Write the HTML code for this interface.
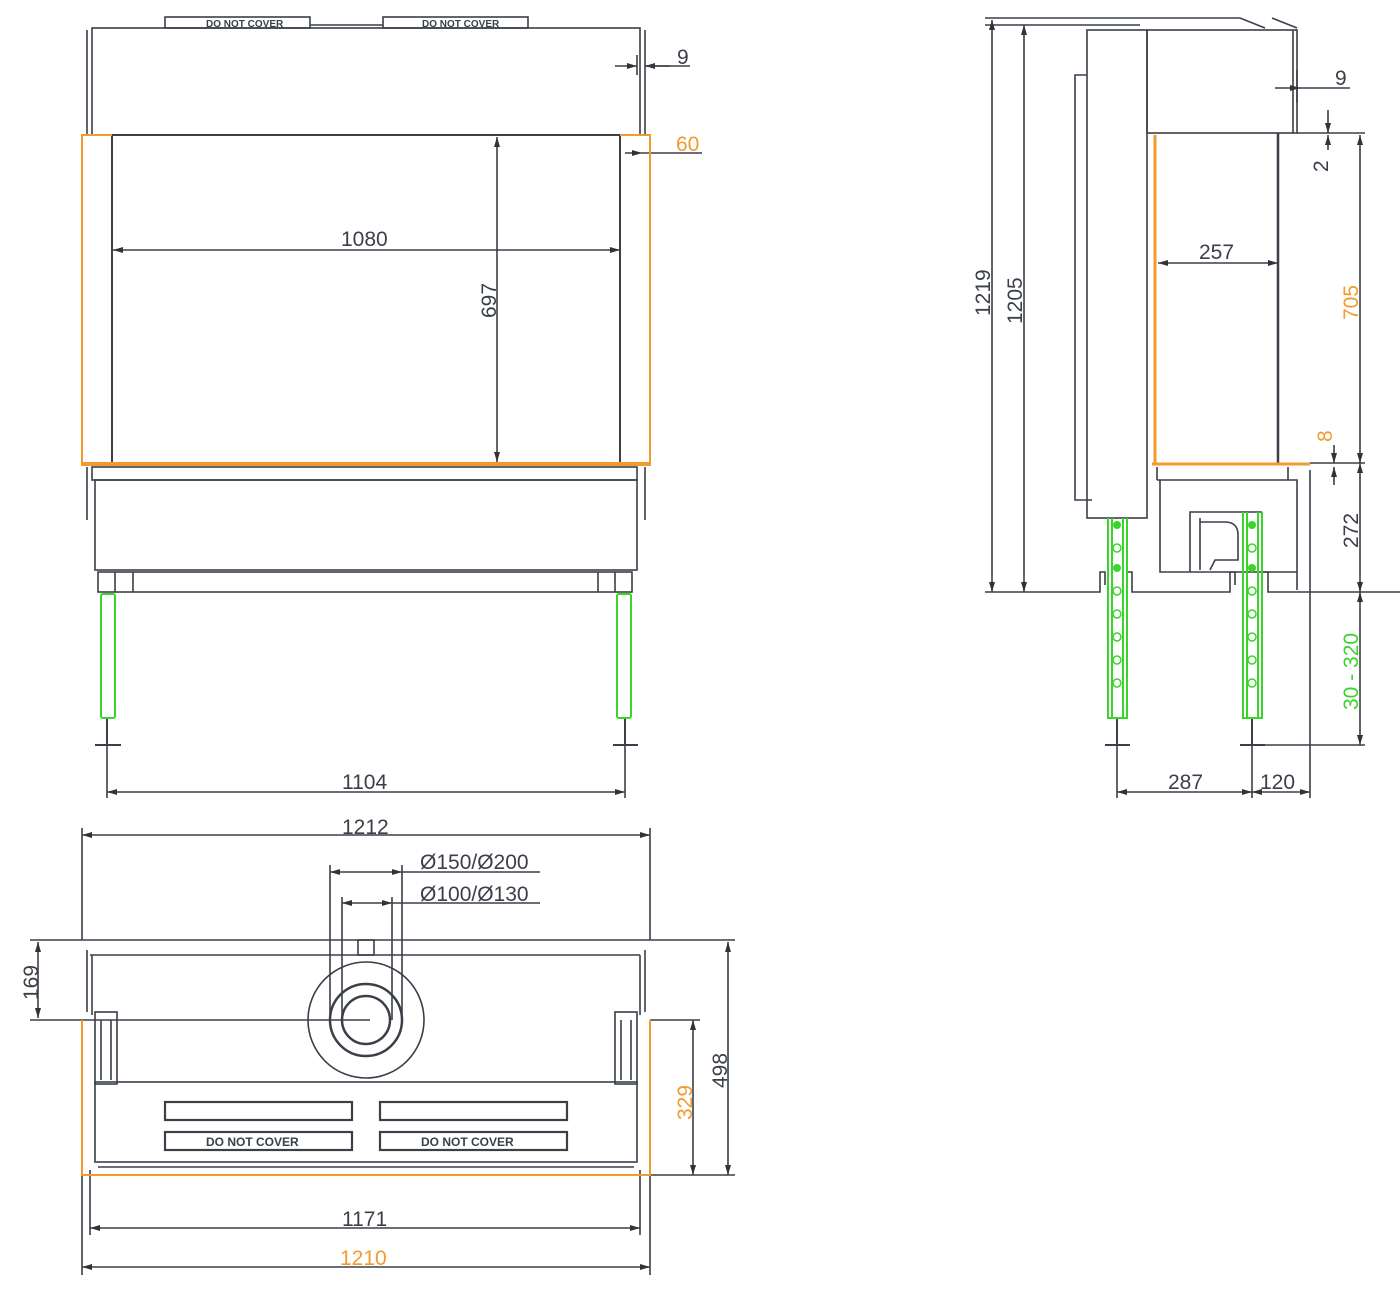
<!DOCTYPE html>
<html><head><meta charset="utf-8"><style>
html,body{margin:0;padding:0;background:#fff}
svg{display:block}
text{font-family:"Liberation Sans",sans-serif;font-size:21px;fill:#3a3f48}
text.s{font-size:10px;font-weight:bold}
text.s2{font-size:12px;font-weight:bold}
.o{fill:#f39a2e}.g{fill:#39d52a}
</style></head><body>
<svg width="1400" height="1290" viewBox="0 0 1400 1290" xmlns="http://www.w3.org/2000/svg">
<defs>
<marker id="a" viewBox="0 0 10 6" refX="10" refY="3" markerWidth="10" markerHeight="6" orient="auto-start-reverse" markerUnits="userSpaceOnUse"><path d="M0,0L10,3L0,6z" fill="#333"/></marker>
</defs>
<g fill="none" stroke="#3a3f48" stroke-width="1.6">
<!-- FRONT VIEW -->
<rect x="165" y="17" width="145" height="11"/><rect x="383" y="17" width="145" height="11"/>
<line x1="310" y1="25" x2="383" y2="25"/>
<rect x="92" y="28" width="548" height="107"/>
<path d="M87 30V135M645 30V135"/>
<rect x="112" y="135" width="508" height="328" stroke-width="2"/>
<rect x="92" y="467" width="545" height="13"/>
<path d="M87 467V520M645 467V520"/>
<rect x="95" y="480" width="542" height="90"/>
<rect x="98" y="572" width="534" height="20"/>
<path d="M115 572V592M133 572V592M598 572V592M615 572V592"/>
<path d="M107 718V745M95 745H121M625 718V745M613 745H638" stroke-width="2"/>
<line x1="107" y1="745" x2="107" y2="798"/><line x1="625" y1="745" x2="625" y2="798"/>
<line x1="107" y1="792" x2="625" y2="792" marker-start="url(#a)" marker-end="url(#a)"/>
<line x1="113" y1="250" x2="620" y2="250" marker-start="url(#a)" marker-end="url(#a)"/>
<line x1="497" y1="137" x2="497" y2="462" marker-start="url(#a)" marker-end="url(#a)"/>
<line x1="615" y1="66" x2="637" y2="66" marker-end="url(#a)"/>
<line x1="670" y1="66" x2="645" y2="66" marker-end="url(#a)"/>
<path d="M645 66H690M637 55V75"/>
<line x1="625" y1="153" x2="642" y2="153" marker-end="url(#a)"/>
<path d="M642 153H702"/>
<!-- SIDE VIEW -->
<path d="M985 18H1240L1265 28M1272 18L1297 28M985 25H1140"/>
<line x1="992" y1="20" x2="992" y2="592" marker-start="url(#a)" marker-end="url(#a)"/>
<line x1="1024" y1="25" x2="1024" y2="592" marker-start="url(#a)" marker-end="url(#a)"/>
<rect x="1087" y="30" width="60" height="488"/>
<path d="M1087 75H1075V500H1092"/>
<rect x="1147" y="30" width="150" height="103"/>
<path d="M1293 30V133"/>
<line x1="1278" y1="133" x2="1278" y2="463" stroke-width="2.5"/>
<line x1="1158" y1="263" x2="1278" y2="263" marker-start="url(#a)" marker-end="url(#a)"/>
<path d="M1157 467V480M1288 467V480M1157 480H1297V572H1190M1160 480V572H1190M1190 572V512H1262M1200 518V570M1297 480V590"/>
<path d="M1200 522H1225Q1238 522 1238 535V560H1215L1210 570"/>
<path d="M985 592H1100V572H1105V585M1127 585V572H1132V592H1230V572H1235V585M1262 585V572H1268V592H1400"/>
<path d="M1117 718V745M1105 745H1130M1252 718V745M1240 745H1265" stroke-width="2"/>
<path d="M1117 745V798M1252 745V798M1310 470V798M1265 745H1365"/>
<line x1="1117" y1="792" x2="1252" y2="792" marker-start="url(#a)" marker-end="url(#a)"/>
<line x1="1252" y1="792" x2="1310" y2="792" marker-start="url(#a)" marker-end="url(#a)"/>
<path d="M1297 133H1365M1310 463H1365M1300 88H1350M1297 70V103"/>
<line x1="1275" y1="88" x2="1300" y2="88" marker-end="url(#a)"/>
<line x1="1360" y1="135" x2="1360" y2="463" marker-start="url(#a)" marker-end="url(#a)"/>
<line x1="1360" y1="463" x2="1360" y2="592" marker-start="url(#a)" marker-end="url(#a)"/>
<line x1="1360" y1="592" x2="1360" y2="745" marker-start="url(#a)" marker-end="url(#a)"/>
<line x1="1328" y1="110" x2="1328" y2="133" marker-end="url(#a)"/>
<line x1="1328" y1="150" x2="1328" y2="135" marker-end="url(#a)"/>
<line x1="1334" y1="445" x2="1334" y2="463" marker-end="url(#a)"/>
<line x1="1334" y1="485" x2="1334" y2="467" marker-end="url(#a)"/>
<!-- TOP VIEW -->
<line x1="82" y1="835" x2="650" y2="835" marker-start="url(#a)" marker-end="url(#a)"/>
<path d="M82 828V940M650 828V940"/>
<line x1="330" y1="872" x2="402" y2="872" marker-start="url(#a)" marker-end="url(#a)"/>
<line x1="342" y1="903" x2="392" y2="903" marker-start="url(#a)" marker-end="url(#a)"/>
<path d="M402 872H540M392 903H540M330 865V1020M402 865V1020M342 897V1020M392 897V1020"/>
<path d="M30 940H735M30 1020H370M650 1020H700"/>
<line x1="38" y1="942" x2="38" y2="1018" marker-start="url(#a)" marker-end="url(#a)"/>
<path d="M90 955H640M87 950V1012M92 955V1015M645 950V1012M640 955V1015"/>
<rect x="358" y="940" width="16" height="15"/>
<ellipse cx="366" cy="1020" rx="58" ry="58"/>
<circle cx="366" cy="1020" r="36" stroke-width="2.5"/>
<circle cx="366" cy="1020" r="24" stroke-width="2.5"/>
<rect x="95" y="1012" width="22" height="72"/><rect x="615" y="1012" width="22" height="72"/>
<path d="M101 1020V1080M111 1020V1080M621 1020V1080M631 1020V1080"/>
<rect x="95" y="1082" width="542" height="80"/>
<path d="M98 1167H634"/>
<rect x="165" y="1102" width="187" height="18" stroke-width="2.2"/>
<rect x="380" y="1102" width="187" height="18" stroke-width="2.2"/>
<rect x="165" y="1132" width="187" height="18" stroke-width="2.2"/>
<rect x="380" y="1132" width="187" height="18" stroke-width="2.2"/>
<line x1="693" y1="1020" x2="693" y2="1175" marker-start="url(#a)" marker-end="url(#a)"/>
<line x1="728" y1="942" x2="728" y2="1175" marker-start="url(#a)" marker-end="url(#a)"/>
<path d="M650 1175H735M90 1170V1235M640 1170V1235M82 1175V1275M650 1175V1275"/>
<line x1="90" y1="1228" x2="640" y2="1228" marker-start="url(#a)" marker-end="url(#a)"/>
<line x1="82" y1="1267" x2="650" y2="1267" marker-start="url(#a)" marker-end="url(#a)"/>
</g>
<g fill="none" stroke="#f39a2e" stroke-width="2">
<path d="M112 135H82V465H650V135H620"/>
<line x1="82" y1="464" x2="650" y2="464" stroke-width="4"/>
<line x1="1155" y1="135" x2="1155" y2="463" stroke-width="3"/>
<line x1="1152" y1="464" x2="1310" y2="464" stroke-width="3"/>
<path d="M82 1020V1175H650V1020"/>
</g>
<g fill="none" stroke="#39d52a" stroke-width="2">
<rect x="101" y="594" width="14" height="124" rx="2"/>
<rect x="617" y="594" width="14" height="124" rx="2"/>
<path d="M1108 518V718H1127V518M1112 518V718M1123 518V718"/>
<path d="M1243 512V718H1262V512M1247 512V718M1258 512V718"/>
<g stroke-width="1.5">
<circle cx="1117" cy="548" r="4"/><circle cx="1117" cy="591" r="4"/><circle cx="1117" cy="614" r="4"/><circle cx="1117" cy="637" r="4"/><circle cx="1117" cy="660" r="4"/><circle cx="1117" cy="683" r="4"/>
<circle cx="1252" cy="548" r="4"/><circle cx="1252" cy="591" r="4"/><circle cx="1252" cy="614" r="4"/><circle cx="1252" cy="637" r="4"/><circle cx="1252" cy="660" r="4"/><circle cx="1252" cy="683" r="4"/>
</g>
</g>
<g fill="#39d52a"><circle cx="1117" cy="525" r="4"/><circle cx="1117" cy="568" r="4"/><circle cx="1252" cy="525" r="4"/><circle cx="1252" cy="568" r="4"/></g>
<text x="206" y="27" class="s">DO NOT COVER</text><text x="422" y="27" class="s">DO NOT COVER</text>
<text x="206" y="1146" class="s2">DO NOT COVER</text><text x="421" y="1146" class="s2">DO NOT COVER</text>
<text x="677" y="64">9</text>
<text x="676" y="151" class="o">60</text>
<text x="341" y="246">1080</text>
<text transform="translate(496,318) rotate(-90)">697</text>
<text x="342" y="789">1104</text>
<text transform="translate(990,316) rotate(-90)">1219</text>
<text transform="translate(1022,324) rotate(-90)">1205</text>
<text x="1199" y="259">257</text>
<text x="1335" y="85">9</text>
<text transform="translate(1328,172) rotate(-90)">2</text>
<text transform="translate(1358,320) rotate(-90)" class="o">705</text>
<text transform="translate(1332,442) rotate(-90)" class="o">8</text>
<text transform="translate(1358,548) rotate(-90)">272</text>
<text transform="translate(1358,710) rotate(-90)" class="g">30 - 320</text>
<text x="1168" y="789">287</text>
<text x="1260" y="789">120</text>
<text x="342" y="834">1212</text>
<text x="420" y="869">Ø150/Ø200</text>
<text x="420" y="901">Ø100/Ø130</text>
<text transform="translate(38,1000) rotate(-90)">169</text>
<text transform="translate(692,1120) rotate(-90)" class="o">329</text>
<text transform="translate(727,1088) rotate(-90)">498</text>
<text x="342" y="1226">1171</text>
<text x="340" y="1265" class="o">1210</text>
</svg>
</body></html>
